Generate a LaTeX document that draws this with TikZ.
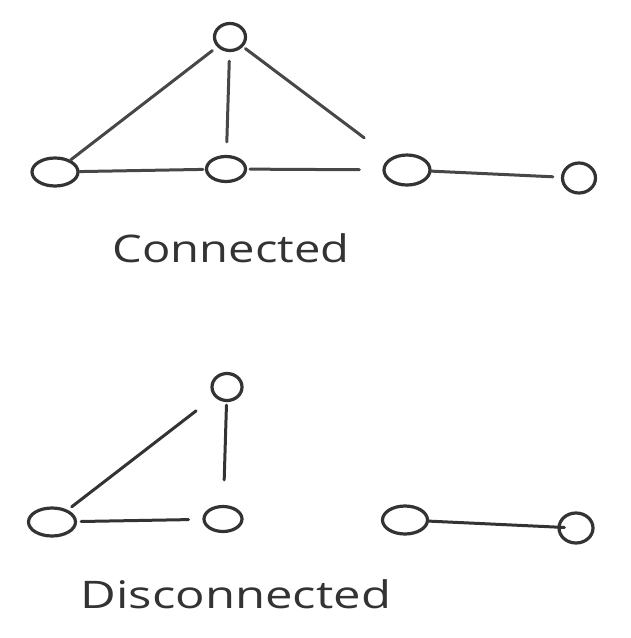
\documentclass[tikz,border=0pt]{standalone}
\usepackage{fontspec}
\setmainfont{Open Sans}
\usepackage{tikz}
\usetikzlibrary{shapes.geometric}
\definecolor{ink}{HTML}{333333}
\definecolor{pencil}{HTML}{474747}

\begin{document}
\begin{tikzpicture}[
    x=1pt, y=-1pt,
    vertex/.style 2 args={ellipse, draw=ink, line width=3.2pt, inner sep=0pt, minimum width=#1, minimum height=#2},
    edge/.style={pencil, line width=3pt, line cap=round},
    caption/.style={anchor=base, text=ink, inner sep=0pt, font=\fontsize{38}{40}\selectfont}
  ]
    \useasboundingbox (0,0) rectangle (631,638);

    % connected graph
    \node[vertex={31pt}{27pt}] (ctop) at (230,37) {};
    \node[vertex={46pt}{28pt}] (cleft) at (55,172) {};
    \node[vertex={39pt}{25pt}] (cmid) at (226,169) {};
    \node[vertex={46pt}{30pt}] (cright) at (407,170) {};
    \node[vertex={33pt}{30pt}] (cfar) at (579,178) {};

    \draw[edge, shorten <=6pt] (ctop) -- (cleft);
    \draw[edge, shorten <=9pt, shorten >=13pt] (ctop) -- (cmid);
    \draw[edge, shorten <=3pt, shorten >=33pt] (ctop) -- (cright);
    \draw[edge, shorten >=2pt] (cleft) -- (cmid);
    \draw[edge, shorten <=3pt, shorten >=23pt] (cmid) -- (cright);
    \draw[edge, shorten >=8pt] (cright) -- (cfar);

    \node[caption] (connected) at (231,262) {\scalebox{1.24}[1]{Connected}};

    % disconnected graph
    \node[vertex={30pt}{27pt}] (dtop) at (227,387) {};
    \node[vertex={47pt}{28pt}] (dleft) at (52,522) {};
    \node[vertex={38pt}{25pt}] (dmid) at (223,519) {};
    \node[vertex={45pt}{28pt}] (dright) at (405,520) {};
    \node[vertex={34pt}{30pt}] (dfar) at (576,528) {};

    \draw[edge, ink, shorten <=5pt, shorten >=23pt] (dleft) -- (dtop);
    \draw[edge, ink, shorten <=3pt, shorten >=25pt] (dtop) -- (dmid);
    \draw[edge, ink, shorten <=4pt, shorten >=14pt] (dleft) -- (dmid);
    \draw[edge, ink, shorten >=-7pt] (dright) -- (dfar);

    \node[caption] (disconnected) at (236,608) {\scalebox{1.29}[1]{Disconnected}};

\end{tikzpicture}
\end{document}
